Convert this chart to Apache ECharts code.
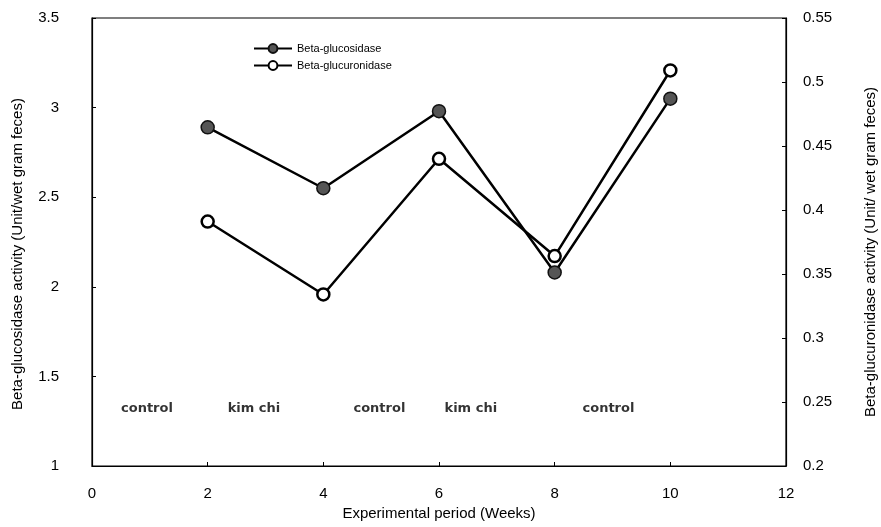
<!DOCTYPE html>
<html><head><meta charset="utf-8">
<script src="https://cdn.jsdelivr.net/npm/echarts@6/dist/echarts.min.js"></script>
<style>html,body{margin:0;padding:0;background:#fff}#c{width:881px;height:527px}</style>
</head><body><div id="c"></div>
<script>
const weeks = [2, 4, 6, 8, 10];
const glucosidase = [2.89, 2.55, 2.98, 2.08, 3.05];
const glucuronidase = [0.391, 0.334, 0.440, 0.364, 0.509];
const periodNames = ['control', 'kim chi', 'control', 'kim chi', 'control'];
const periodX = [0.95, 2.8, 4.97, 6.55, 8.93];
const periodY = 1.32;

const font = 'Liberation Sans, Arial, sans-serif';
const chart = echarts.init(document.getElementById('c'));
chart.setOption({
  animation: false,
  backgroundColor: '#fff',
  grid: { left: 92, right: 95, top: 18, bottom: 61, show: true, borderColor: '#000', borderWidth: 1.2,
    containLabel: false, outerBoundsMode: 'none' },
  legend: {
    orient: 'vertical', left: 248, top: 38, itemGap: 6, itemWidth: 38, itemHeight: 11,
    textStyle: { fontFamily: font, fontSize: 11, color: '#000' },
    data: ['Beta-glucosidase', 'Beta-glucuronidase']
  },
  xAxis: {
    type: 'value', min: 0, max: 12, interval: 2,
    name: 'Experimental period (Weeks)', nameLocation: 'middle', nameGap: 38,
    nameTextStyle: { fontFamily: font, fontSize: 15, color: '#000' },
    axisLine: { lineStyle: { color: '#000', width: 1.2 } },
    axisTick: { inside: true, length: 4, lineStyle: { color: '#000' } },
    axisLabel: { fontFamily: font, fontSize: 15, color: '#000', margin: 20 },
    splitLine: { show: false }
  },
  yAxis: [{
    type: 'value', min: 1, max: 3.5, interval: 0.5, position: 'left',
    name: 'Beta-glucosidase activity (Unit/wet gram feces)', nameLocation: 'middle', nameGap: 67,
    nameTextStyle: { fontFamily: font, fontSize: 15, color: '#000', padding: [0, 0, 0, -24] },
    axisLine: { show: true, lineStyle: { color: '#000', width: 1.2 } },
    axisTick: { inside: true, length: 4, lineStyle: { color: '#000' } },
    axisLabel: { fontFamily: font, fontSize: 15, color: '#000', margin: 33 },
    splitLine: { show: false }
  }, {
    type: 'value', min: 0.2, max: 0.55, interval: 0.05, position: 'right',
    name: 'Beta-glucuronidase activity (Unit/ wet gram feces)', nameLocation: 'middle', nameGap: 77, nameRotate: 90,
    nameTextStyle: { fontFamily: font, fontSize: 15, color: '#000', padding: [0, 0, 0, -20] },
    axisLine: { show: true, lineStyle: { color: '#000', width: 1.2 } },
    axisTick: { inside: true, length: 4, lineStyle: { color: '#000' } },
    axisLabel: { fontFamily: font, fontSize: 15, color: '#000', margin: 17,
      formatter: v => String(+v.toFixed(2)) },
    splitLine: { show: false }
  }],
  series: [{
    name: 'Beta-glucosidase', type: 'line', yAxisIndex: 0,
    data: weeks.map((w, i) => [w, glucosidase[i]]),
    symbol: 'circle', symbolSize: 13,
    lineStyle: { color: '#000', width: 2.5 },
    itemStyle: { color: '#555', borderColor: '#111', borderWidth: 1.5 }
  }, {
    name: 'Beta-glucuronidase', type: 'line', yAxisIndex: 1,
    data: weeks.map((w, i) => [w, glucuronidase[i]]),
    symbol: 'circle', symbolSize: 12,
    lineStyle: { color: '#000', width: 2.5 },
    itemStyle: { color: '#fff', borderColor: '#000', borderWidth: 2.5 }
  }, {
    name: 'periods', type: 'scatter', yAxisIndex: 0, symbolSize: 0, silent: true,
    data: periodX.map((x, i) => ({ value: [x, periodY], name: periodNames[i] })),
    label: { show: true, position: 'inside', formatter: p => p.name,
      fontFamily: 'DejaVu Sans, sans-serif', fontSize: 13, fontWeight: 'bold', color: '#000' }
  }]
});
</script></body></html>
